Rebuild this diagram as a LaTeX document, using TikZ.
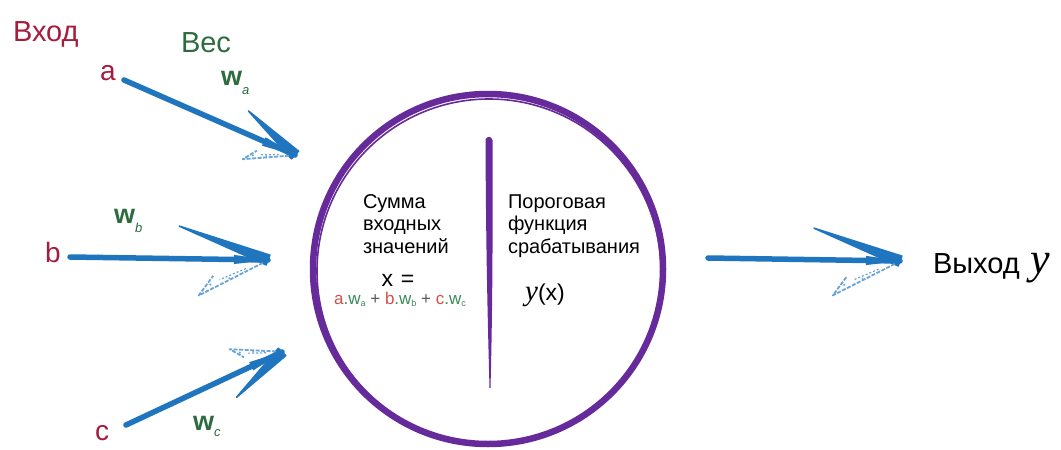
\documentclass[tikz,border=0pt]{standalone}
\usepackage{fontspec}
\setmainfont{Liberation Sans}
\newfontfamily\handserif{Liberation Serif}
\usetikzlibrary{shapes.geometric}
\definecolor{inred}{RGB}{166,28,62}
\definecolor{wgreen}{RGB}{44,108,62}
\definecolor{arrblue}{RGB}{31,117,190}
\definecolor{arrfaint}{RGB}{105,165,215}
\definecolor{neupurple}{RGB}{102,42,155}
\definecolor{fred}{RGB}{214,78,72}
\definecolor{fgreen}{RGB}{58,138,88}
\definecolor{fgray}{RGB}{90,90,90}
\begin{document}
\begin{tikzpicture}[x=1pt,y=-1pt,
  lbl/.style={inner sep=0,outer sep=0},
  hdr/.style={lbl,font=\fontsize{29}{34}\selectfont},
  inlbl/.style={lbl,text=inred,font=\fontsize{28}{32}\selectfont},
  wlbl/.style={lbl,text=wgreen,font=\fontsize{27}{30}\selectfont\bfseries},
  intext/.style={lbl,anchor=base west,font=\fontsize{20}{23}\selectfont},
  shaftst/.style={draw=arrblue,line width=5.5,line cap=round},
  pics/skhead/.style={code={
    \fill[arrblue] (1,0) -- (-34,-4.6) -- (-34,4.6) -- cycle;
    \filldraw[arrblue,line width=1.6,line join=round] (290:5.2) -- (200:#1) -- (110:5.2) -- cycle;
    \draw[arrfaint,line width=1.8,dash pattern=on 4pt off 1.5pt,line join=round]
      (150:6) -- (152:{0.82*#1}) -- (163:{0.6*#1});
    \draw[arrfaint,line width=1.2,dash pattern=on 2pt off 2pt]
      (158:{0.25*#1}) -- (157:{0.55*#1});
    \fill[arrfaint] (156:{0.66*#1}) circle[radius=1.2pt]
      (154:{0.45*#1}) circle[radius=1pt];
  }}
]
\useasboundingbox (0,0) rectangle (1061,450);
\fill[white] (0,0) rectangle (1061,450);

% neuron body
\node[draw=neupurple,line width=6.5,circle,minimum size=350,inner sep=0] (neuron) at (488,269) {};
\draw[neupurple,line width=1.6] (489,271) circle[radius=172];
\fill[neupurple] (485.5,139) .. controls (488,136) and (491,136) .. (492.5,140)
  .. controls (493,260) and (492,330) .. (490.5,388)
  -- (489.5,388) .. controls (488,330) and (486,260) .. (485.5,139) -- cycle;

% header labels
\node[hdr,text=inred,anchor=base west] (hdrIn) at (13,41) {Вход};
\node[hdr,text=wgreen,anchor=base] (hdrW) at (206,52) {Вес};

% inputs
\node[inlbl,anchor=base] (inA) at (108,80) {a};
\node[inlbl,anchor=base] (inB) at (53,262) {b};
\node[inlbl,anchor=base] (inC) at (102,440) {c};

% weights
\node[wlbl,anchor=base west] (wA) at (221,85) {w\raisebox{-9pt}{\fontsize{13}{13}\selectfont\mdseries\itshape a}};
\node[wlbl,anchor=base west] (wB) at (114,223) {w\raisebox{-9pt}{\fontsize{13}{13}\selectfont\mdseries\itshape b}};
\node[wlbl,anchor=base west] (wC) at (193,430) {w\raisebox{-6pt}{\fontsize{13}{13}\selectfont\mdseries\itshape c}};

% arrow coordinates
\coordinate (aTail) at (124,80);
\coordinate (aTip) at (295,155);
\coordinate (bTail) at (70,257);
\coordinate (bTip) at (268,260);
\coordinate (cTail) at (126,425);
\coordinate (cTip) at (282,352);
\coordinate (oTail) at (708,258);
\coordinate (oTip) at (900,261);

\draw[shaftst] (aTail) -- (aTip);
\pic[rotate=-23.4] at (aTip) {skhead=64};
\draw[shaftst] (bTail) -- (bTip);
\pic[rotate=-0.9] at (bTip) {skhead=95};
\draw[shaftst] (cTail) -- (cTip);
\pic[rotate=24.9,yscale=-1] at (cTip) {skhead=64};
\draw[shaftst] (oTail) -- (oTip);
\pic[rotate=-0.9] at (oTip) {skhead=92};

% output label
\node[hdr,anchor=base west] (outLbl) at (933,273) {Выход};
\node[lbl,anchor=base west,font=\fontsize{44}{46}\selectfont\handserif\itshape] (outY) at (1030,273) {y};

% inside the neuron: left half
\node[intext] (s1) at (363,208) {Сумма};
\node[intext] (s2) at (363,230.5) {входных};
\node[intext] (s3) at (363,253) {значений};
\node[lbl,anchor=base,font=\fontsize{23}{24}\selectfont] (xeq) at (398,286) {x\,\,=};
\node[lbl,anchor=base,font=\fontsize{17}{18}\selectfont] (formula) at (400,304)
  {\textcolor{fred}{a}\textcolor{fgreen}{.w\raisebox{-2pt}{\fontsize{9}{9}\selectfont a}}
   \textcolor{fgray}{+}
   \textcolor{fred}{b}\textcolor{fgreen}{.w\raisebox{-2pt}{\fontsize{9}{9}\selectfont b}}
   \textcolor{fgray}{+}
   \textcolor{fred}{c}\textcolor{fgreen}{.w\raisebox{-2pt}{\fontsize{9}{9}\selectfont c}}};

% inside the neuron: right half
\node[intext] (p1) at (508,208) {Пороговая};
\node[intext] (p2) at (508,230.5) {функция};
\node[intext] (p3) at (508,253) {срабатывания};
\node[lbl,anchor=base,font=\fontsize{23}{24}\selectfont] (yx) at (545,300)
  {{\fontsize{29}{30}\selectfont\handserif\itshape y}(x)};
\end{tikzpicture}
\end{document}
